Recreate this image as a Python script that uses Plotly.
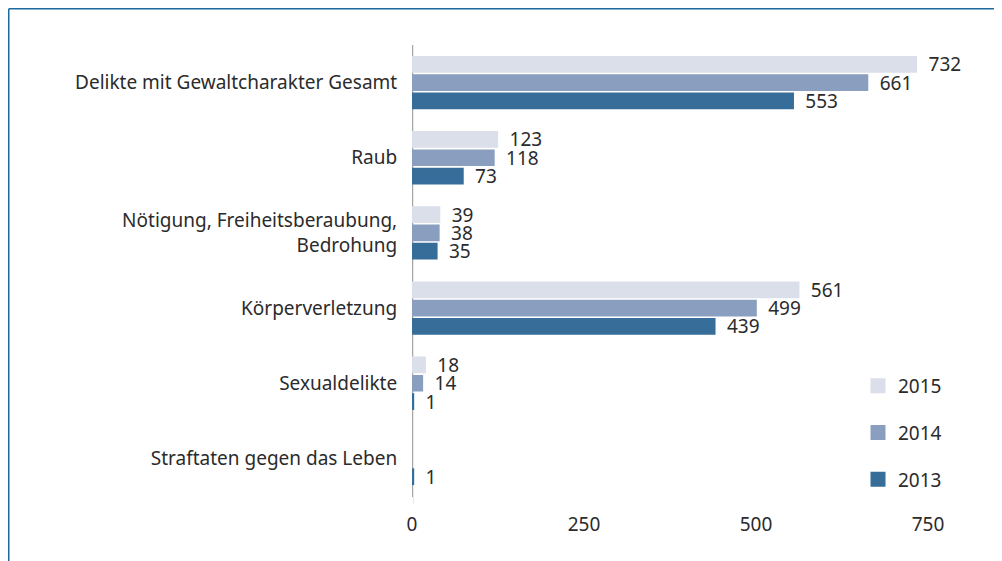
import plotly.graph_objects as go

categories = [
    "Delikte mit Gewaltcharakter Gesamt",
    "Raub",
    "Nötigung, Freiheitsberaubung,<br>Bedrohung",
    "Körperverletzung",
    "Sexualdelikte",
    "Straftaten gegen das Leben",
]
years = ["2015", "2014", "2013"]
values_2015 = [732, 123, 39, 561, 18, None]
values_2014 = [661, 118, 38, 499, 14, None]
values_2013 = [553, 73, 35, 439, 1, 1]
colors = ["#dadfea", "#8a9fbf", "#366d99"]
x_ticks = [0, 250, 500, 750]

# page body adds an 8px offset, so figure coords = screen coords - 8
OFF = 8
W, H = 1002, 561
ML, MR, MT, MB = 404, 82, 37, 73
pw, ph = W - ML - MR, H - MT - MB


def px_x(p):
    return (p - OFF - ML) / pw


def px_y(p):
    return (H - MB - (p - OFF)) / ph


fig = go.Figure()
for year, vals, col in zip(years, [values_2015, values_2014, values_2013], colors):
    fig.add_trace(go.Bar(
        y=categories, x=vals, name=year, orientation="h",
        # outline in the bar colour so the tiny values (1) stay visible
        marker=dict(color=col, line=dict(width=3, color=col)),
        text=[("  " + str(v)) if v is not None else "" for v in vals],
        textposition="outside", cliponaxis=False, constraintext="none",
        textfont=dict(size=19, color="#2b2b2b"),
        outsidetextfont=dict(size=19, color="#2b2b2b"),
        legendgroup=year,
    ))

font = "Noto Sans"
fig.update_layout(
    width=W, height=H, barmode="group", bargap=0.27, bargroupgap=0.25,
    margin=dict(l=ML, r=MR, t=MT, b=MB),
    plot_bgcolor="white", paper_bgcolor="white",
    font=dict(family=font, size=19, color="#2b2b2b"),
    legend=dict(x=px_x(858), y=px_y(367), xanchor="left", yanchor="top",
                tracegroupgap=19, font=dict(size=19), itemwidth=30),
    xaxis=dict(range=[0, 750], tickvals=x_ticks, showgrid=False, zeroline=False,
               showline=False, ticks="outside", ticklen=11, tickcolor="white"),
    yaxis=dict(autorange="reversed", showgrid=False, showline=False,
               ticks="outside", ticklen=10, tickcolor="white"),
    shapes=[
        dict(type="line", xref="x", yref="paper", x0=0, x1=0, y0=px_y(504), y1=px_y(45),
             line=dict(color="#a6a6a6", width=2.5), layer="below"),
        dict(type="line", xref="paper", yref="paper", x0=px_x(8.75), x1=px_x(1012),
             y0=px_y(8.75), y1=px_y(8.75), line=dict(color="#1d6a9e", width=1.5)),
        dict(type="line", xref="paper", yref="paper", x0=px_x(8.75), x1=px_x(8.75),
             y0=px_y(8.75), y1=px_y(575), line=dict(color="#1d6a9e", width=1.5)),
    ],
)

fig.write_html("out.html")
